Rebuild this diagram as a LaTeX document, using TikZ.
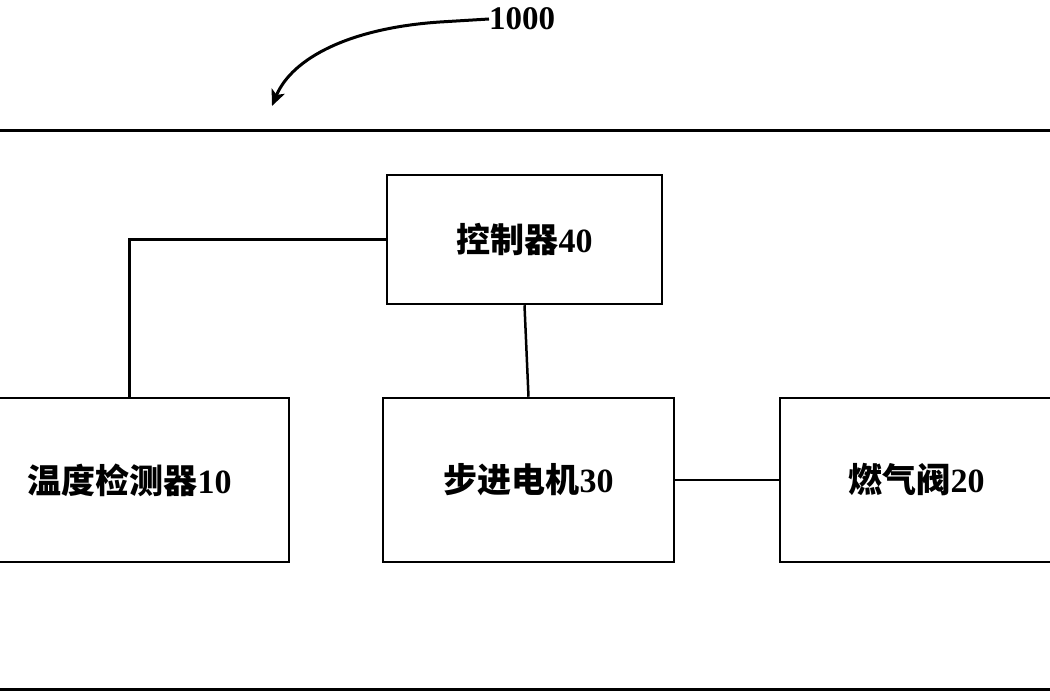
\documentclass[tikz,border=0pt]{standalone}
\usepackage{fontspec}
\setmainfont{Liberation Serif}
\newfontfamily\cjk{Noto Sans CJK SC}
\usetikzlibrary{arrows.meta}
\newcommand\lbl[2]{{\cjk\bfseries #1}{\bfseries #2}}
\tikzset{
  blk/.style={draw, line width=2.5pt, minimum height=164pt, inner sep=0pt,
    font=\fontsize{34}{34}\selectfont},
  wire/.style={line width=2.5pt}
}
\begin{document}
\begin{tikzpicture}[x=1pt,y=-1pt]
\useasboundingbox (0,0) rectangle (1050,700);
\clip (0,0) rectangle (1050,700);
\fill[white] (0,0) rectangle (1050,700);
% outer frame
\draw[line width=3pt] (-20,131) rectangle (1070,689);
% blocks
\node[blk, minimum width=275pt, minimum height=129pt] (ctrl) at (524.5,239.5) {\lbl{控制器}{40}};
\node[blk, minimum width=319pt] (temp) at (129.5,480) {\lbl{温度检测器}{10}};
\node[blk, minimum width=291pt] (motor) at (528.5,480) {\lbl{步进电机}{30}};
\node[blk, minimum width=273pt] (valve) at (916.5,480) {\lbl{燃气阀}{20}};
% connectors
\draw[wire] (ctrl.west) -| (temp.north);
\draw[wire] (ctrl.south) -- (motor.north);
\draw[wire] (motor.east) -- (valve.west);
% reference numeral
\node[font=\fontsize{33}{33}\selectfont\bfseries, anchor=west, inner sep=0pt] (ref) at (489,19) {1000};
\coordinate (tip) at (272,106);
\draw[line width=3pt, -{Stealth[length=16pt,width=14pt,inset=4pt]}]
  (ref.west) -- (440,22) .. controls (350,28) and (292,58) .. (tip);
\end{tikzpicture}
\end{document}
